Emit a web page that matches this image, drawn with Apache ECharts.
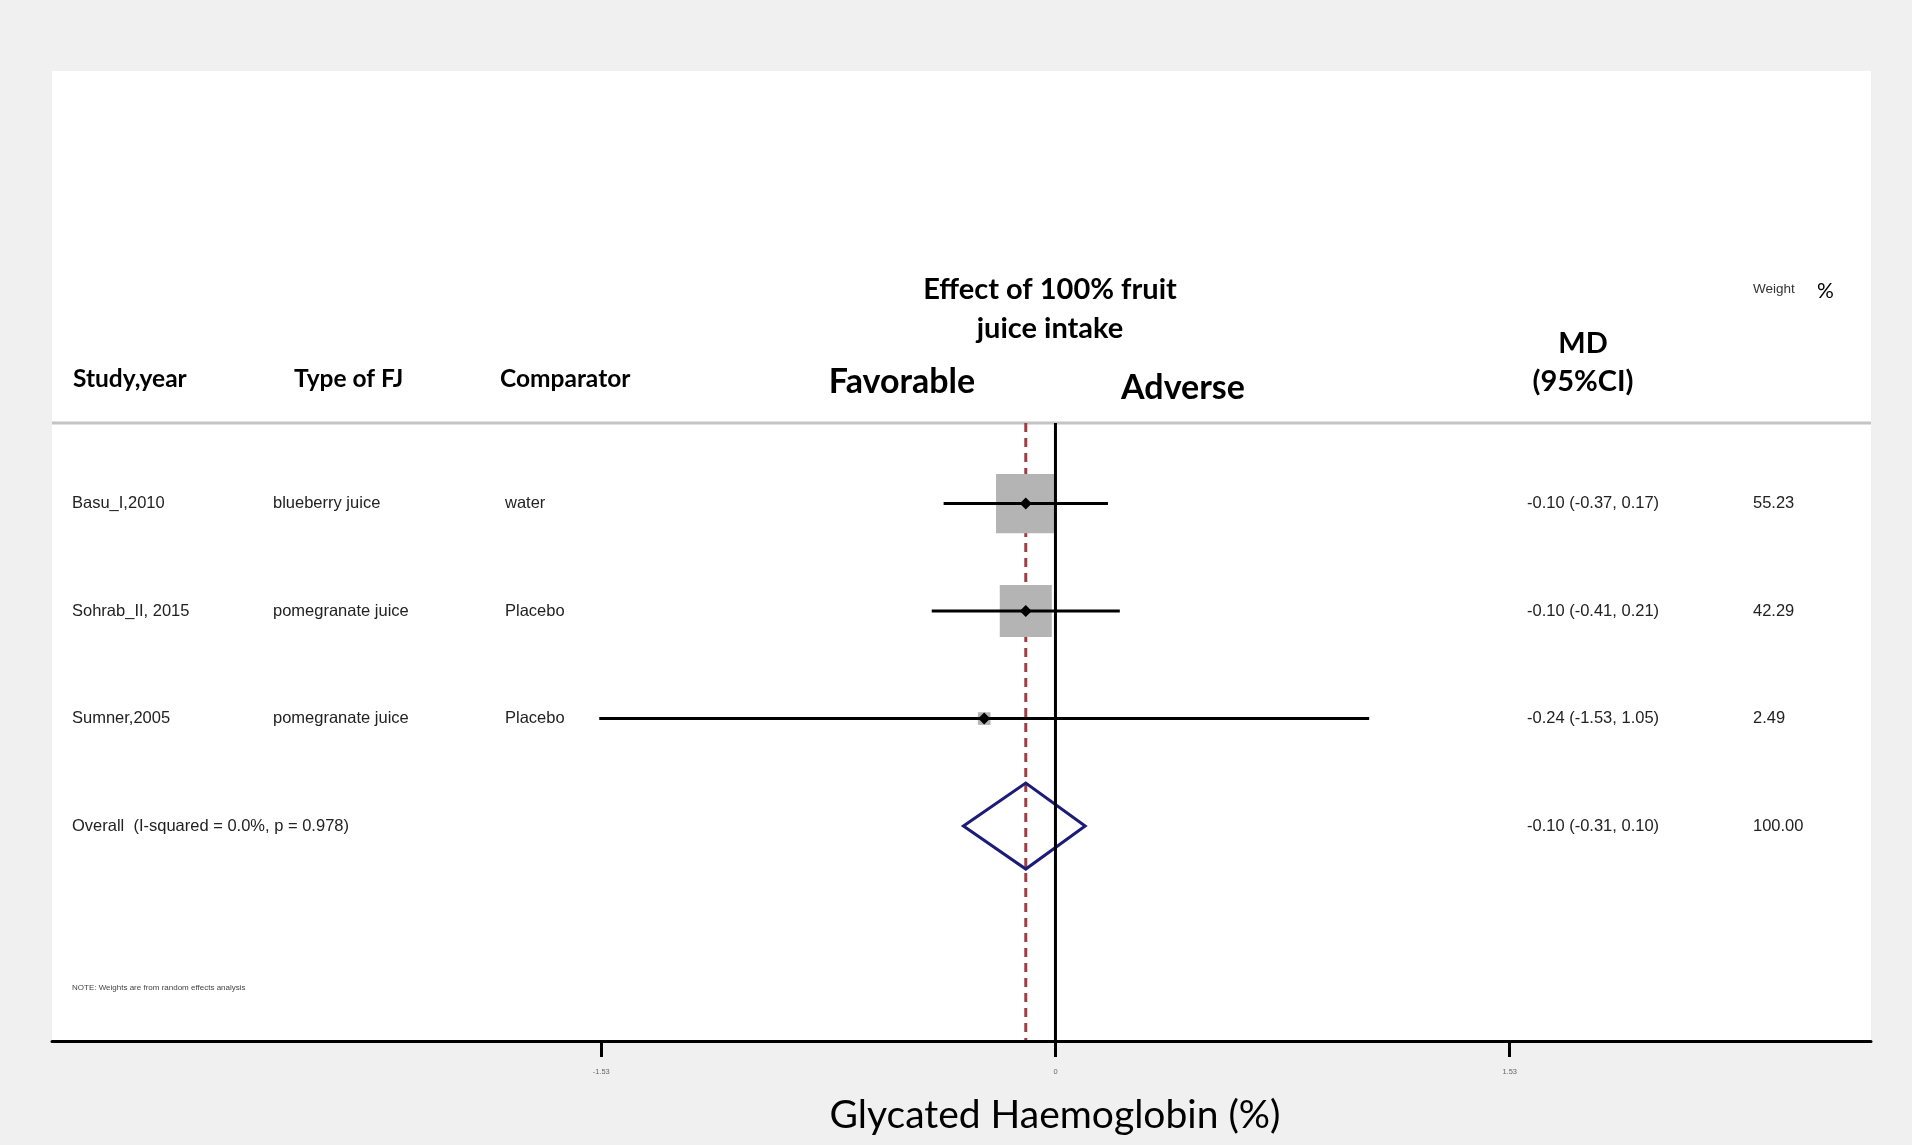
<!DOCTYPE html>
<html><head><meta charset="utf-8">
<script src="https://cdn.jsdelivr.net/npm/echarts@6/dist/echarts.min.js"></script>
<style>html,body{margin:0;padding:0;background:#f0f0f0}#c{width:1912px;height:1145px}</style>
</head><body><div id="c"></div>
<script>
// ---- data ----
const studies = ['Basu_I,2010', 'Sohrab_II, 2015', 'Sumner,2005'];
const juiceTypes = ['blueberry juice', 'pomegranate juice', 'pomegranate juice'];
const comparators = ['water', 'Placebo', 'Placebo'];
const md = [-0.10, -0.10, -0.24];
const lower = [-0.37, -0.41, -1.53];
const upper = [0.17, 0.21, 1.05];
const weights = [55.23, 42.29, 2.49];
const overallMd = -0.10;
const overallLower = -0.31;
const overallUpper = 0.10;
const overallWeight = 100.00;
const iSquared = 0.0;
const pHet = 0.978;
const xTicks = [-1.53, 0, 1.53];
const xTickLabels = ['-1.53', '0', '1.53'];

// ---- chart ----
const chart = echarts.init(document.getElementById('c'), null, {renderer: 'canvas'});
const ROW_FONT = '"Liberation Sans", Arial, sans-serif';
const HEAD_FONT = 'Lato, "Open Sans", sans-serif';
const yMin = 0.25, yMax = 6;
const fmt = v => v.toFixed(2);
const mdText = (m, l, u) => `${fmt(m)} (${fmt(l)}, ${fmt(u)})`;

const rowData = studies.map((s, i) => [i + 1, lower[i], md[i], upper[i], weights[i]]);
const overallRow = studies.length + 1;

function rowText(x, y, text) {
  return {type: 'text', style: {text, x, y, fontSize: 16.5, fontFamily: ROW_FONT, fill: '#222', align: 'left', verticalAlign: 'middle'}};
}
function headText(x, y, text, size, align, weight) {
  return {type: 'text', z: 10, style: {text, x, y, fontSize: size, fontFamily: HEAD_FONT, fontWeight: weight || 'bold', fill: '#000', align: align || 'left', verticalAlign: 'middle'}};
}

const option = {
  backgroundColor: '#f0f0f0',
  animation: false,
  grid: {left: 52, right: 41, top: 423, bottom: 104, containLabel: false},
  xAxis: {
    type: 'value', min: -3.38, max: 2.747, z: 5,
    axisLine: {lineStyle: {color: '#000', width: 3}},
    axisTick: {customValues: xTicks, length: 16, lineStyle: {color: '#000', width: 3}},
    axisLabel: {customValues: xTicks, fontSize: 7.5, color: '#666', margin: 27,
      formatter: v => xTickLabels[xTicks.indexOf(v)] !== undefined ? xTickLabels[xTicks.indexOf(v)] : String(v)},
    splitLine: {show: false}
  },
  yAxis: {type: 'value', inverse: true, min: yMin, max: yMax, show: false},
  graphic: [
    {type: 'rect', z: -100, shape: {x: 52, y: 71, width: 1819, height: 971}, style: {fill: '#ffffff'}},
    {type: 'line', z: 1, shape: {x1: 52, y1: 423, x2: 1871, y2: 423}, style: {stroke: '#c4c4c4', lineWidth: 3}},
    headText(1050, 290, 'Effect of 100% fruit', 29, 'center'),
    headText(1050, 329, 'juice intake', 29, 'center'),
    headText(902, 382, 'Favorable', 34, 'center'),
    headText(1183, 388, 'Adverse', 34, 'center'),
    headText(1583, 344, 'MD', 29, 'center'),
    headText(1583, 382, '(95%CI)', 29, 'center'),
    headText(73, 379, 'Study,year', 24.5),
    headText(294, 379, 'Type of FJ', 24.5),
    headText(500, 379, 'Comparator', 24.5),
    {type: 'text', z: 10, style: {text: 'Weight', x: 1753, y: 289, fontSize: 13.5, fontFamily: ROW_FONT, fill: '#333', verticalAlign: 'middle'}},
    {type: 'text', z: 10, style: {text: '%', x: 1817, y: 291, fontSize: 21, fontFamily: HEAD_FONT, fill: '#000', verticalAlign: 'middle'}},
    {type: 'text', z: 10, style: {text: 'NOTE: Weights are from random effects analysis', x: 72, y: 988, fontSize: 8, fontFamily: ROW_FONT, fill: '#444', verticalAlign: 'middle'}},
    {type: 'text', z: 10, style: {text: 'Glycated Haemoglobin (%)', x: 1055, y: 1115, fontSize: 39, fontFamily: HEAD_FONT, fill: '#000', align: 'center', verticalAlign: 'middle'}}
  ],
  series: [
    { // overall effect dashed line
      type: 'line', z: 2, silent: true, showSymbol: false,
      data: [[overallMd, yMin], [overallMd, yMax]],
      lineStyle: {color: '#a13c40', width: 3, type: [9, 6]}
    },
    { // study estimates
      type: 'custom', z: 3, silent: true,
      data: rowData,
      encode: {x: [1, 2, 3], y: 0},
      renderItem(params, api) {
        const row = api.value(0);
        const pLo = api.coord([api.value(1), row]);
        const pMd = api.coord([api.value(2), row]);
        const pHi = api.coord([api.value(3), row]);
        const s = 8 * Math.sqrt(api.value(4));
        const d = 6;
        return {type: 'group', children: [
          {type: 'rect', shape: {x: pMd[0] - s / 2, y: pMd[1] - s / 2, width: s, height: s}, style: {fill: '#b4b4b4'}},
          {type: 'line', shape: {x1: pLo[0] - 2, y1: pLo[1], x2: pHi[0] + 2, y2: pHi[1]}, style: {stroke: '#000', lineWidth: 3}},
          {type: 'polygon', shape: {points: [[pMd[0] - d, pMd[1]], [pMd[0], pMd[1] - d], [pMd[0] + d, pMd[1]], [pMd[0], pMd[1] + d]]}, style: {fill: '#000'}}
        ]};
      }
    },
    { // overall diamond
      type: 'custom', z: 3, silent: true,
      data: [[overallRow, overallLower, overallMd, overallUpper]],
      encode: {x: [1, 2, 3], y: 0},
      renderItem(params, api) {
        const row = api.value(0);
        const pLo = api.coord([api.value(1), row]);
        const pMd = api.coord([api.value(2), row]);
        const pHi = api.coord([api.value(3), row]);
        const h = 43;
        return {type: 'polygon', shape: {points: [[pLo[0], pLo[1]], [pMd[0], pMd[1] - h], [pHi[0], pHi[1]], [pMd[0], pMd[1] + h]]},
          style: {fill: 'none', stroke: '#1c1c78', lineWidth: 3}};
      }
    },
    { // zero line
      type: 'line', z: 4, silent: true, showSymbol: false,
      data: [[0, yMin], [0, yMax]],
      lineStyle: {color: '#000', width: 3}
    },
    { // table text per row
      type: 'custom', z: 5, silent: true,
      data: studies.map((s, i) => [0, i + 1]).concat([[0, overallRow]]),
      encode: {x: 0, y: 1},
      renderItem(params, api) {
        const i = params.dataIndex;
        const y = api.coord([0, api.value(1)])[1];
        if (i < studies.length) {
          return {type: 'group', children: [
            rowText(72, y, studies[i]),
            rowText(273, y, juiceTypes[i]),
            rowText(505, y, comparators[i]),
            rowText(1527, y, mdText(md[i], lower[i], upper[i])),
            rowText(1753, y, fmt(weights[i]))
          ]};
        }
        return {type: 'group', children: [
          rowText(72, y, `Overall  (I-squared = ${iSquared.toFixed(1)}%, p = ${pHet.toFixed(3)})`),
          rowText(1527, y, mdText(overallMd, overallLower, overallUpper)),
          rowText(1753, y, fmt(overallWeight))
        ]};
      }
    }
  ]
};
chart.setOption(option);
</script>
</body></html>
